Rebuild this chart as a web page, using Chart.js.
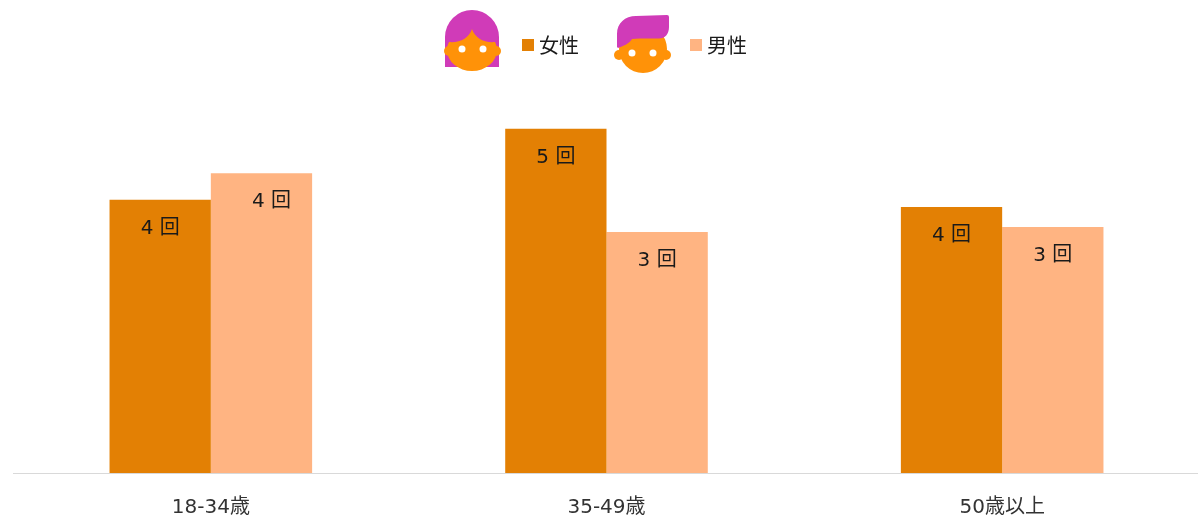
<!DOCTYPE html>
<html lang="ja">
<head>
<meta charset="utf-8">
<title>回数</title>
<script src="https://cdn.jsdelivr.net/npm/chart.js@4"></script>
<style>
    html, body { margin: 0; padding: 0; background: #fff; overflow: hidden; }
    #wrap { position: relative; width: 1198px; height: 518px; overflow: hidden; }
    #visitsChart { position: absolute; left: 0; top: 0; }
    #faces { position: absolute; left: 0; top: 0; }
    .swatch { position: absolute; top: 39px; width: 12px; height: 12px; }
    .name { position: absolute; top: 32px; font: 20px/28px "DejaVu Sans", "Noto Sans CJK JP", sans-serif; color: #1a1a1a; }
</style>
</head>
<body>
<div id="wrap">
    <canvas id="visitsChart" width="1200" height="518"></canvas>
    <svg id="faces" width="1198" height="90" viewBox="0 0 1198 90">
        <!-- woman -->
        <path d="M445 37a27 27 0 0 1 54 0V67H445Z" fill="#d03bb8"/>
        <circle cx="449" cy="51" r="5" fill="#ff9208"/>
        <circle cx="496" cy="51" r="5" fill="#ff9208"/>
        <path d="M449 42C460 43 469 38 472 29C475 38 484 43 495 42C497 46 497 48 497 50A25 21 0 0 1 447 50C447 48 447 46 449 42Z" fill="#ff9208"/>
        <circle cx="462" cy="49" r="3.5" fill="#fff"/>
        <circle cx="483" cy="49" r="3.5" fill="#fff"/>
        <!-- man -->
        <circle cx="619" cy="55" r="5" fill="#ff9208"/>
        <circle cx="666" cy="55" r="5" fill="#ff9208"/>
        <circle cx="643" cy="49" r="24" fill="#ff9208"/>
        <path d="M617 47V34C617 23 625 16 636 16L667 15Q669 15 669 17V27C669 34 665 38.5 659 38.5H640Q635 38.5 632 39C629 44 623 46 618 48Z" fill="#d03bb8"/>
        <circle cx="632" cy="53" r="3.5" fill="#fff"/>
        <circle cx="653" cy="53" r="3.5" fill="#fff"/>
    </svg>
    <div id="legend"></div>
</div>
<script>
const categories = ['18-34歳', '35-49歳', '50歳以上'];
const seriesNames = ['女性', '男性'];
const femaleValues = [3.81, 4.8, 3.71];
const maleValues = [4.18, 3.36, 3.43];
const seriesColors = ['#e38004', '#ffb482'];
const fontFamily = '"DejaVu Sans", "Noto Sans CJK JP", sans-serif';

// legend text sits between the two face icons
const legendX = [[522, 539], [690, 707]];
const legend = document.getElementById('legend');
seriesNames.forEach((name, i) => {
    legend.insertAdjacentHTML('beforeend',
        `<span class="swatch" style="left:${legendX[i][0]}px;background:${seriesColors[i]}"></span>` +
        `<span class="name" style="left:${legendX[i][1]}px">${name}</span>`);
});

const barLabels = {
    id: 'barLabels',
    afterDatasetsDraw(chart) {
        const ctx = chart.ctx;
        ctx.save();
        ctx.font = '20px ' + fontFamily;
        ctx.fillStyle = '#1a1a1a';
        ctx.textAlign = 'center';
        ctx.textBaseline = 'middle';
        chart.data.datasets.forEach((ds, d) => {
            chart.getDatasetMeta(d).data.forEach((bar, i) => {
                // first male label sits off centre in the original
                const shift = d === 1 && i === 0 ? 10 : 0;
                ctx.fillText(Math.round(ds.data[i]) + ' 回', bar.x + shift, bar.y + 29);
            });
        });
        ctx.restore();
    }
};

new Chart(document.getElementById('visitsChart').getContext('2d'), {
    type: 'bar',
    data: {
        labels: categories,
        datasets: [
            { label: seriesNames[0], data: femaleValues, backgroundColor: seriesColors[0] },
            { label: seriesNames[1], data: maleValues, backgroundColor: seriesColors[1] }
        ]
    },
    options: {
        responsive: false,
        animation: false,
        layout: { padding: { left: 13, top: 100 } },
        datasets: { bar: { categoryPercentage: 0.512, barPercentage: 1, borderWidth: 0 } },
        plugins: { legend: { display: false }, tooltip: { enabled: false } },
        scales: {
            y: { display: false, min: 0, max: 5.2 },
            x: {
                grid: { display: false },
                border: { color: '#d9d9d9', width: 1 },
                ticks: {
                    padding: 15,
                    maxRotation: 0,
                    color: '#333',
                    font: { size: 20, family: fontFamily }
                },
                afterFit(axis) { axis.height = 45; }
            }
        }
    },
    plugins: [barLabels]
});
</script>
</body>
</html>
